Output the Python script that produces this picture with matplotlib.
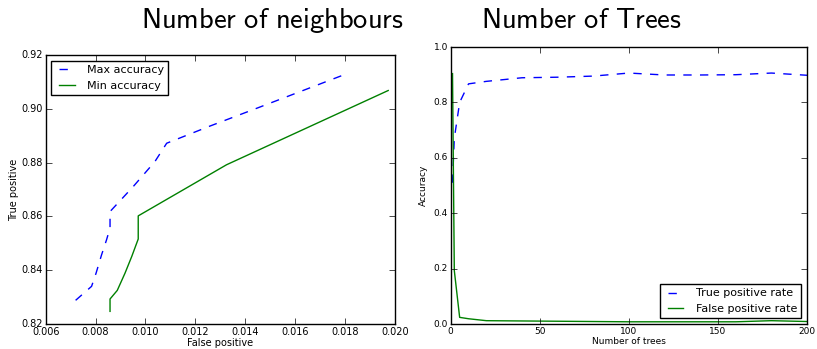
import matplotlib
matplotlib.use("Agg")
import matplotlib.pyplot as plt

plt.style.use('classic')
plt.rcParams['mathtext.fontset'] = 'cm'

# left panel: ROC-like points for different number of neighbours
max_fp = [0.00720, 0.00784, 0.00802, 0.00824, 0.00844, 0.00858, 0.00858, 0.00871,
          0.00951, 0.01038, 0.01085, 0.01259, 0.01446, 0.01800]
max_tp = [0.8288, 0.8340, 0.8389, 0.8457, 0.8513, 0.8557, 0.8618, 0.8631,
          0.8711, 0.8804, 0.8872, 0.8936, 0.9002, 0.9128]
min_fp = [0.00858, 0.00858, 0.00887, 0.00918, 0.00945, 0.00971, 0.00971, 0.01325, 0.01973]
min_tp = [0.8247, 0.8293, 0.8325, 0.8389, 0.8451, 0.8516, 0.8602, 0.8792, 0.9068]

# right panel: rates vs number of trees
trees = [1, 2, 5, 10, 20, 40, 60, 80, 100, 120, 140, 160, 180, 200]
tp_rate = [0.51, 0.67, 0.80, 0.867, 0.876, 0.889, 0.891, 0.895, 0.906, 0.899,
           0.899, 0.900, 0.906, 0.898]
fp_rate = [0.904, 0.193, 0.024, 0.019, 0.012, 0.011, 0.010, 0.009, 0.008, 0.008,
           0.008, 0.008, 0.012, 0.009]

fig = plt.figure(figsize=(8.17, 3.49), dpi=100, facecolor='white')

ax1 = fig.add_axes([0.0559, 0.0716, 0.4275, 0.7708])
ax1.plot(max_fp, max_tp, 'b--', label='Max accuracy')
ax1.plot(min_fp, min_tp, 'g-', label='Min accuracy')
ax1.set_xlim(0.006, 0.020)
ax1.set_ylim(0.82, 0.92)
ax1.set_xticks([0.006, 0.008, 0.010, 0.012, 0.014, 0.016, 0.018, 0.020])
ax1.tick_params(labelsize=7, pad=2)
ax1.set_xlabel('False positive', fontsize=7, labelpad=1)
ax1.set_ylabel('True positive', fontsize=7, labelpad=2)
ax1.legend(loc='upper left', fontsize=8)

ax2 = fig.add_axes([0.5517, 0.0716, 0.4361, 0.7937])
ax2.plot(trees, tp_rate, 'b--', label='True positive rate')
ax2.plot(trees, fp_rate, 'g-', label='False positive rate')
ax2.set_xlim(0, 200)
ax2.set_ylim(0, 1.0)
ax2.tick_params(labelsize=6.5, pad=2)
ax2.set_xlabel('Number of trees', fontsize=6.5, labelpad=1)
ax2.set_ylabel('Accuracy', fontsize=6.5, labelpad=4)
ax2.legend(loc='lower right', fontsize=8)

fig.text(0.333, 0.92, r'$\mathsf{Number\ of\ neighbours}$', fontsize=20.5,
         ha='center', va='baseline')
fig.text(0.712, 0.92, r'$\mathsf{Number\ of\ Trees}$', fontsize=20.5,
         ha='center', va='baseline')

fig.savefig('out.png', dpi=100, facecolor='white')
